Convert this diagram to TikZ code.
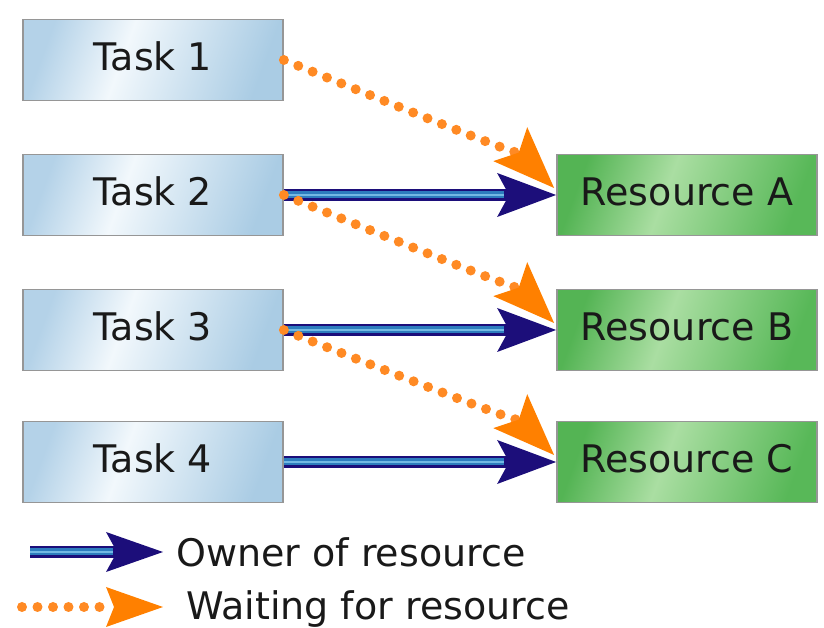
\documentclass[tikz,border=0pt]{standalone}
\usepackage{fontspec}
\setmainfont{DejaVu Sans}
\usetikzlibrary{arrows.meta,calc}
\definecolor{navyA}{RGB}{28,14,122}
\definecolor{blueIn}{RGB}{45,125,190}
\definecolor{blueLt}{RGB}{115,185,228}
\definecolor{orDot}{RGB}{255,138,36}
\definecolor{orHead}{RGB}{255,128,0}
\definecolor{tbl}{RGB}{180,210,232}
\definecolor{tbw}{RGB}{242,248,252}
\definecolor{tbr}{RGB}{170,204,228}
\definecolor{grl}{RGB}{84,180,84}
\definecolor{grw}{RGB}{170,222,162}
\definecolor{grr}{RGB}{88,184,88}
\definecolor{bordergray}{RGB}{150,150,150}
\pgfdeclarehorizontalshading{taskshade}{100bp}{color(0bp)=(tbl); color(25bp)=(tbl); color(43bp)=(tbw); color(75bp)=(tbr); color(100bp)=(tbr)}
\pgfdeclarehorizontalshading{resshade}{100bp}{color(0bp)=(grl); color(25bp)=(grl); color(45bp)=(grw); color(75bp)=(grr); color(100bp)=(grr)}
\tikzset{
  boxbase/.style={minimum width=260pt, minimum height=81pt, inner sep=0pt,
    draw=bordergray, line width=1.8pt, text height=28pt, text depth=7pt,
    font=\fontsize{38}{42}\selectfont, text=black!90},
  taskbox/.style={boxbase, shade, shading=taskshade, shading angle=-20},
  resbox/.style={boxbase, shade, shading=resshade, shading angle=-20},
  ownerarrow/.style={draw=navyA, line width=12pt,
    -{Stealth[length=59pt, width=44pt, inset=12pt, line width=0pt, color=navyA]}},
  ownerin/.style={draw=blueIn, line width=7pt},
  ownerlt/.style={draw=blueLt, line width=2pt},
  waitarrow/.style={draw=orDot, line width=10pt, line cap=round,
    dash pattern=on 0pt off 15.5pt,
    -{Stealth[length=62pt, width=48pt, inset=12pt, line width=0pt, color=orHead]}},
  legtext/.style={inner sep=0pt, anchor=base west, font=\fontsize{38}{42}\selectfont, text=black!90}
}
\begin{document}
\begin{tikzpicture}[x=1pt,y=1pt]
\useasboundingbox (0,0) rectangle (824,628);
% tasks
\node[taskbox] (t1) at (153,568) {Task 1};
\node[taskbox] (t2) at (153,433) {Task 2};
\node[taskbox] (t3) at (153,298) {Task 3};
\node[taskbox] (t4) at (153,166) {Task 4};
% resources
\node[resbox] (ra) at (687,433) {Resource A};
\node[resbox] (rb) at (687,298) {Resource B};
\node[resbox] (rc) at (687,166) {Resource C};
% targets for waiting arrows
\coordinate (wa) at ([xshift=-2pt,yshift=7pt]ra.west);
\coordinate (wb) at ([xshift=-2pt,yshift=7pt]rb.west);
\coordinate (wc) at ([xshift=-2pt,yshift=7pt]rc.west);
% owner arrows
\foreach \s/\d in {t2/ra, t3/rb, t4/rc}{
  \draw[ownerarrow] (\s.east) -- (\d.west);
  \draw[ownerin] (\s.east) -- ([xshift=-52pt]\d.west);
  \draw[ownerlt] (\s.east) -- ([xshift=-52pt]\d.west);
}
% waiting arrows
\draw[waitarrow] (t1.east) to[out=-22, in=135, looseness=0.35] (wa);
\draw[waitarrow] (t2.east) to[out=-22, in=135, looseness=0.35] (wb);
\draw[waitarrow] (t3.east) to[out=-22, in=135, looseness=0.35] (wc);
% legend
\coordinate (lo1) at (30,76);
\coordinate (lo2) at (163,76);
\coordinate (lw1) at (22,21);
\coordinate (lw2) at (163,21);
\draw[ownerarrow, -{Stealth[length=57pt, width=40pt, inset=11pt, line width=0pt, color=navyA]}] (lo1) -- (lo2);
\draw[ownerin] (lo1) -- ([xshift=-50pt]lo2);
\draw[ownerlt] (lo1) -- ([xshift=-50pt]lo2);
\draw[waitarrow, -{Stealth[length=57pt, width=40pt, inset=8pt, line width=0pt, color=orHead]}] (lw1) -- (lw2);
\node[legtext] (lt1) at (176,61) {Owner of resource};
\node[legtext] (lt2) at (186,8) {Waiting for resource};
\end{tikzpicture}
\end{document}
